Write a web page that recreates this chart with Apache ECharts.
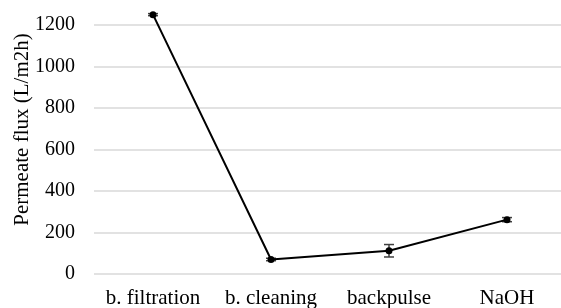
<!DOCTYPE html>
<html>
<head>
<meta charset="utf-8">
<script src="https://cdn.jsdelivr.net/npm/echarts@6/dist/echarts.min.js"></script>
<style>
  html, body { margin: 0; padding: 0; background: #fff; }
  #chart { width: 561px; height: 308px; }
</style>
</head>
<body>
<div id="chart"></div>
<script>
// data
const categories = ['b. filtration', 'b. cleaning', 'backpulse', 'NaOH'];
const fluxValues = [1250, 70, 112, 262];
const fluxErrors = [5, 6, 30, 10];
const yTicks = [0, 200, 400, 600, 800, 1000, 1200];

const chart = echarts.init(document.getElementById('chart'));

const errorData = fluxValues.map((v, i) => [i, v - fluxErrors[i], v + fluxErrors[i]]);

const font = 'Liberation Serif, Times New Roman, serif';

chart.setOption({
  animation: false,
  textStyle: { fontFamily: font },
  grid: { left: 94, top: 25, width: 472, height: 249, outerBoundsMode: 'none' },
  xAxis: {
    type: 'category',
    data: categories,
    axisLine: { show: false },
    axisTick: { show: false },
    axisLabel: { color: '#000', fontSize: 21, fontFamily: font, margin: 14, interval: 0 }
  },
  yAxis: {
    type: 'value',
    min: yTicks[0],
    max: yTicks[yTicks.length - 1],
    interval: 200,
    name: 'Permeate flux (L/m2h)',
    nameLocation: 'middle',
    nameGap: 61,
    nameMoveOverlap: false,
    nameTextStyle: { color: '#000', fontSize: 21, fontFamily: font, padding: [0, 0, 0, 40] },
    axisLine: { show: false },
    axisTick: { show: false },
    axisLabel: { color: '#000', fontSize: 20, fontFamily: font, margin: 19, formatter: v => String(v) },
    splitLine: { lineStyle: { color: '#d9d9d9', width: 1.5 } }
  },
  series: [
    {
      type: 'line',
      data: fluxValues,
      clip: false,
      symbol: 'circle',
      symbolSize: 7,
      lineStyle: { color: '#000', width: 2 },
      itemStyle: { color: '#000' },
      z: 3
    },
    {
      type: 'custom',
      data: errorData,
      clip: false,
      z: 2,
      renderItem: (params, api) => {
        const lo = api.coord([api.value(0), api.value(1)]);
        const hi = api.coord([api.value(0), api.value(2)]);
        const cap = 5;
        const style = { stroke: '#404040', lineWidth: 1.5 };
        return {
          type: 'group',
          children: [
            { type: 'line', shape: { x1: lo[0], y1: lo[1], x2: hi[0], y2: hi[1] }, style },
            { type: 'line', shape: { x1: lo[0] - cap, y1: lo[1], x2: lo[0] + cap, y2: lo[1] }, style },
            { type: 'line', shape: { x1: hi[0] - cap, y1: hi[1], x2: hi[0] + cap, y2: hi[1] }, style }
          ]
        };
      }
    }
  ]
});
</script>
</body>
</html>
